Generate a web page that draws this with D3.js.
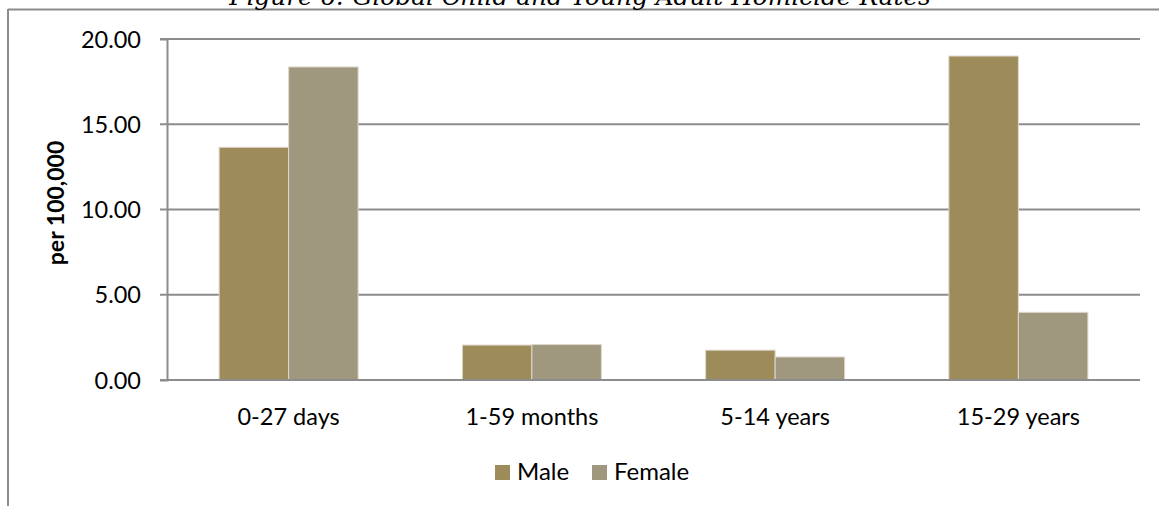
<!DOCTYPE html>
<html>
<head>
<meta charset="utf-8">
<script src="https://cdn.jsdelivr.net/npm/d3@7"></script>
<style>
  body { margin: 0; background: #fff; }
  text { font-family: Lato, "Open Sans", sans-serif; fill: #000; }
</style>
</head>
<body>
<div id="chart"></div>
<script>
// datos
var categories = ["0-27 days", "1-59 months", "5-14 years", "15-29 years"];
var series = ["Male", "Female"];
var maleValues = [13.65, 2.05, 1.75, 19.0];
var femaleValues = [18.36, 2.08, 1.35, 3.97];
var yTicks = [0, 5, 10, 15, 20];
var colors = ["#9e8b5a", "#a0977f"];

(function () {
var width = 1159, height = 506;
var pLeft = 167, pRight = 1140, pTop = 39, pBottom = 380;
var fontSize = "23.5px";

var svg = d3.select("#chart").append("svg")
    .attr("width", width).attr("height", height);

// marco del grafico (solo se ven arriba e izquierda)
svg.append("line").attr("x1", 8).attr("x2", width).attr("y1", 9.5).attr("y2", 9.5)
    .attr("stroke", "#8c8c8c").attr("stroke-width", 2);
svg.append("line").attr("x1", 8).attr("x2", 8).attr("y1", 9).attr("y2", height)
    .attr("stroke", "#8c8c8c").attr("stroke-width", 2);

// titulo, cortado arriba
svg.append("text").attr("x", 580).attr("y", 5)
    .attr("text-anchor", "middle")
    .style("font-family", "'DejaVu Serif', serif").style("font-style", "italic")
    .style("font-size", "24.8px")
    .text("Figure 6: Global Child and Young Adult Homicide Rates");

var y = d3.scaleLinear().domain([0, 20]).range([pBottom, pTop]);
var x0 = d3.scaleBand().domain(categories).range([pLeft, pRight]);
var x1 = d3.scaleBand().domain(series).range([0, x0.bandwidth()]).paddingOuter(0.75);

// lineas de cuadricula
svg.append("g").selectAll("line").data(yTicks).enter().append("line")
    .attr("x1", pLeft - 7).attr("x2", pRight)
    .attr("y1", function (d) { return y(d); }).attr("y2", function (d) { return y(d); })
    .attr("stroke", "#8c8c8c").attr("stroke-width", 2);

// eje y
var yAxis = svg.append("g").attr("transform", "translate(" + pLeft + ",0)")
    .call(d3.axisLeft(y).tickValues(yTicks).tickFormat(d3.format(".2f")).tickSize(7).tickPadding(19));
yAxis.select(".domain").attr("stroke", "#8c8c8c").attr("stroke-width", 2);
yAxis.selectAll(".tick line").remove();
yAxis.selectAll("text").style("font-size", fontSize).attr("dy", "0.35em");

// barras
var rows = categories.map(function (c, i) {
    return { cat: c, vals: [maleValues[i], femaleValues[i]] };
});
var groups = svg.append("g").selectAll("g").data(rows).enter().append("g")
    .attr("transform", function (d) { return "translate(" + x0(d.cat) + ",0)"; });
groups.selectAll("rect").data(function (d) {
    return d.vals.map(function (v, j) { return { s: series[j], v: v, c: colors[j] }; });
}).enter().append("rect")
    .attr("x", function (d) { return x1(d.s); })
    .attr("width", x1.bandwidth())
    .attr("y", function (d) { return y(d.v); })
    .attr("height", function (d) { return pBottom - y(d.v); })
    .attr("fill", function (d) { return d.c; })
    .attr("stroke", "#ddd8cc").attr("stroke-width", 1);

// linea base
svg.append("line").attr("x1", pLeft).attr("x2", pRight).attr("y1", pBottom).attr("y2", pBottom)
    .attr("stroke", "#8c8c8c").attr("stroke-width", 2);

// eje x
var xAxis = svg.append("g").attr("transform", "translate(0," + pBottom + ")")
    .call(d3.axisBottom(x0).tickSize(0).tickPadding(28));
xAxis.select(".domain").remove();
xAxis.selectAll("text").style("font-size", fontSize);

// titulo del eje y
svg.append("text")
    .attr("transform", "translate(64,203) rotate(-90)")
    .attr("text-anchor", "middle")
    .style("font-size", "23px").style("font-weight", "bold")
    .text("per 100,000");

// leyenda
var legend = svg.append("g").attr("transform", "translate(495,465)");
var item = legend.selectAll("g").data(series).enter().append("g")
    .attr("transform", function (d, i) { return "translate(" + (i * 97) + ",0)"; });
item.append("rect").attr("width", 15).attr("height", 15)
    .attr("fill", function (d, i) { return colors[i]; });
item.append("text").attr("x", 22).attr("y", 15)
    .style("font-size", "24px").text(function (d) { return d; });
})();
</script>
</body>
</html>
